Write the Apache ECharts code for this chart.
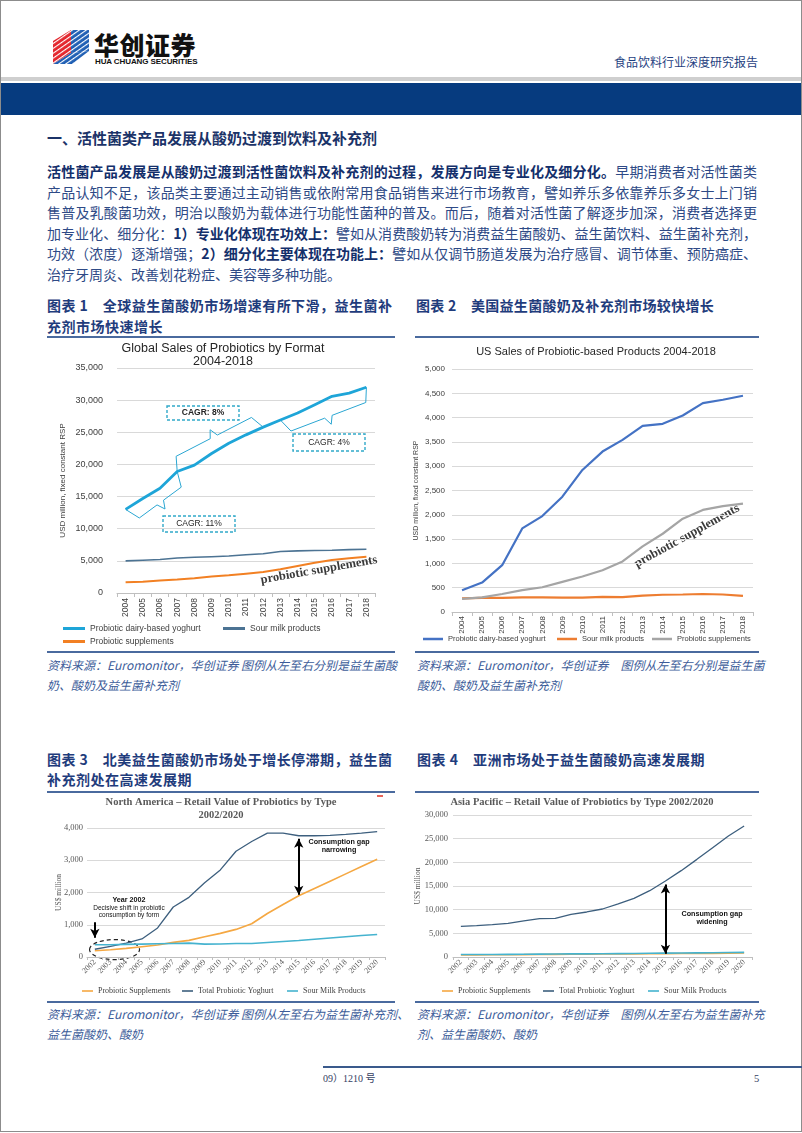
<!DOCTYPE html>
<html><head><meta charset="utf-8">
<script src="https://cdn.jsdelivr.net/npm/echarts@6/dist/echarts.min.js"></script>
<style>
html,body{margin:0;padding:0;background:#fff;}
#page{position:relative;width:802px;height:1133px;overflow:hidden;font-family:"Noto Sans CJK SC",sans-serif;}
.a{position:absolute;white-space:nowrap;}
.j{text-align:justify;text-align-last:justify;}
.p{left:47px;width:710px;font-size:14px;line-height:20px;height:20px;color:#2E4A86;}
.p b{color:#132F6B;font-weight:700;}
.cap{font-size:14px;line-height:20px;height:20px;font-weight:700;color:#1F3C7C;}
.src{font-size:12px;line-height:20px;height:20px;font-style:italic;color:#3C5C99;}
.bl{position:absolute;height:2px;background:#4A6A9E;}
.chart{position:absolute;}
</style></head>
<body><div id="page">
<div class="a" style="left:0;top:0;width:800px;height:1130px;border:1px solid #8c8c8c;"></div>
<!-- logo -->
<svg class="a" style="left:52px;top:29px" width="38" height="36" viewBox="0 0 38 36">
<defs><pattern id="st" width="4" height="4" patternUnits="userSpaceOnUse" patternTransform="rotate(-35)"><rect width="4" height="1.1" fill="#fff"/></pattern></defs>
<polygon points="1,12 19,1 19,24 1,35" fill="#E3262D"/>
<polygon points="19,1 37,1 37,22 19,24" fill="#1F5FB4"/>
<polygon points="1,35 19,24 37,22 20,35" fill="#1F5FB4"/>
<polygon points="1,12 19,1 37,1 37,22 20,35 1,35" fill="url(#st)"/>
</svg>
<div class="a" style="left:94px;top:29px;font-size:25px;line-height:30px;font-weight:900;color:#111;letter-spacing:0.5px;">华创证券</div>
<div class="a" style="left:95px;top:57px;font-size:8px;line-height:10px;font-weight:700;color:#111;font-family:'Liberation Sans',sans-serif;letter-spacing:-0.1px;">HUA CHUANG SECURITIES</div>
<div class="a" style="left:614px;top:54px;font-size:12px;line-height:16px;color:#1F3F7F;">食品饮料行业深度研究报告</div>
<div class="a" style="left:1px;top:77px;width:800px;height:4px;background:#cfcfcf;"></div>
<div class="a" style="left:1px;top:83px;width:800px;height:32px;background:#063B7F;"></div>

<div class="a" style="left:47px;top:128px;font-size:15px;line-height:20px;font-weight:700;color:#1B3368;">一、活性菌类产品发展从酸奶过渡到饮料及补充剂</div>
<div class="a p j" style="top:161px;"><b>活性菌产品发展是从酸奶过渡到活性菌饮料及补充剂的过程，发展方向是专业化及细分化。</b>早期消费者对活性菌类</div>
<div class="a p j" style="top:181.5px;">产品认知不足，该品类主要通过主动销售或依附常用食品销售来进行市场教育，譬如养乐多依靠养乐多女士上门销</div>
<div class="a p j" style="top:202px;">售普及乳酸菌功效，明治以酸奶为载体进行功能性菌种的普及。而后，随着对活性菌了解逐步加深，消费者选择更</div>
<div class="a p j" style="top:222.5px;">加专业化、细分化：<b>1）专业化体现在功效上：</b>譬如从消费酸奶转为消费益生菌酸奶、益生菌饮料、益生菌补充剂，</div>
<div class="a p j" style="top:243px;">功效（浓度）逐渐增强；<b>2）细分化主要体现在功能上：</b>譬如从仅调节肠道发展为治疗感冒、调节体重、预防癌症、</div>
<div class="a p" style="top:263.5px;">治疗牙周炎、改善划花粉症、美容等多种功能。</div>

<div class="a cap j" style="left:47px;top:295px;width:345px;">图表 1　全球益生菌酸奶市场增速有所下滑，益生菌补</div>
<div class="a cap" style="left:47px;top:316px;letter-spacing:0.5px;">充剂市场快速增长</div>
<div class="a cap" style="left:416px;top:295px;letter-spacing:0.3px;">图表 2　美国益生菌酸奶及补充剂市场较快增长</div>
<div class="bl" style="left:47px;top:336px;width:348px;"></div>
<div class="bl" style="left:415px;top:336px;width:344px;"></div>

<div id="c1" class="chart" style="left:47px;top:338px;width:345px;height:312px;"></div>
<div id="c2" class="chart" style="left:405px;top:338px;width:352px;height:312px;"></div>

<div class="bl" style="left:47px;top:651px;width:348px;"></div>
<div class="bl" style="left:415px;top:651px;width:344px;"></div>
<div class="a src j" style="left:47px;top:655px;width:345px;">资料来源：Euromonitor，华创证券 图例从左至右分别是益生菌酸</div>
<div class="a src" style="left:47px;top:675px;">奶、酸奶及益生菌补充剂</div>
<div class="a src j" style="left:417px;top:655px;width:340px;">资料来源：Euromonitor，华创证券　图例从左至右分别是益生菌</div>
<div class="a src" style="left:417px;top:675px;">酸奶、酸奶及益生菌补充剂</div>

<div class="a cap j" style="left:47px;top:749px;width:345px;">图表 3　北美益生菌酸奶市场处于增长停滞期，益生菌</div>
<div class="a cap" style="left:47px;top:769px;letter-spacing:0.5px;">补充剂处在高速发展期</div>
<div class="a cap" style="left:417px;top:749px;letter-spacing:0.5px;">图表 4　亚洲市场处于益生菌酸奶高速发展期</div>
<div class="bl" style="left:47px;top:791px;width:348px;"></div>
<div class="bl" style="left:415px;top:791px;width:344px;"></div>

<div id="c3" class="chart" style="left:47px;top:793px;width:345px;height:207px;"></div>
<div id="c4" class="chart" style="left:405px;top:793px;width:352px;height:207px;"></div>

<div class="bl" style="left:47px;top:1001px;width:348px;"></div>
<div class="bl" style="left:415px;top:1001px;width:344px;"></div>
<div class="a src j" style="left:47px;top:1004px;width:345px;">资料来源：Euromonitor，华创证券 图例从左至右为益生菌补充剂、</div>
<div class="a src" style="left:47px;top:1024px;">益生菌酸奶、酸奶</div>
<div class="a src j" style="left:417px;top:1004px;width:340px;">资料来源：Euromonitor，华创证券　图例从左至右为益生菌补充</div>
<div class="a src" style="left:417px;top:1024px;">剂、益生菌酸奶、酸奶</div>

<div class="a" style="left:323px;top:1066px;width:479px;height:2px;background:#3A5A8C;"></div>
<div class="a" style="left:323px;top:1072px;font-size:10px;line-height:14px;color:#33405f;font-family:'Liberation Serif','Noto Sans CJK SC',serif;">09）1210 号</div>
<div class="a" style="left:754px;top:1072px;font-size:10.5px;line-height:14px;color:#33405f;font-family:'Liberation Serif',serif;">5</div>
</div>
<script>
// ---------- data ----------
const years1 = ['2004','2005','2006','2007','2008','2009','2010','2011','2012','2013','2014','2015','2016','2017','2018'];
const globalYoghurt = [13000,14700,16300,18900,19900,21700,23300,24600,25800,26900,28000,29300,30600,31100,32000];
const globalSour = [5000,5100,5200,5450,5550,5650,5750,5950,6100,6450,6550,6600,6650,6750,6800];
const globalSupp = [1660,1750,1950,2100,2300,2550,2750,3000,3250,3700,4200,4700,5150,5400,5650];
const usYoghurt = [447,605,963,1720,1974,2373,2923,3301,3542,3831,3872,4044,4298,4367,4450];
const usSour = [280,290,290,300,300,295,295,310,305,335,355,360,370,360,330];
const usSupp = [270,300,370,450,510,620,730,860,1040,1350,1610,1920,2100,2180,2230];
const years2 = ['2002','2003','2004','2005','2006','2007','2008','2009','2010','2011','2012','2013','2014','2015','2016','2017','2018','2019','2020'];
const naSupp = [196,227,268,320,371,454,515,629,732,856,1031,1350,1629,1897,2124,2350,2577,2804,3031];
const naYoghurt = [240,330,430,560,900,1550,1850,2300,2700,3280,3580,3840,3840,3760,3760,3770,3800,3840,3890];
const naSour = [380,380,390,400,410,420,430,400,405,420,420,450,480,510,550,590,630,665,700];
const asiaSupp = [420,440,460,480,500,530,560,590,610,630,650,670,690,710,730,750,770,800,830];
const asiaYoghurt = [6480,6620,6830,7110,7610,8100,8170,9010,9510,10140,11200,12390,14010,16060,18240,20630,23100,25560,27680];
const asiaSour = [520,520,530,550,580,610,640,680,670,690,720,750,780,810,840,870,900,940,980];
const cagrLabels = ['CAGR: 11%','CAGR: 8%','CAGR: 4%'];

const SANS = '"Liberation Sans", Arial, sans-serif';
const SERIF = '"Liberation Serif", "DejaVu Serif", serif';
const fmt = v => v.toLocaleString('en-US');

function leg(name, left, top, font, size, w, h){
  return {data:[name], left:left, top:top, padding:0, itemWidth:w, itemHeight:h, icon:'rect', selectedMode:false,
    textStyle:{fontFamily:font, fontSize:size, color:'#404040'}};
}
function line(name, data, color, width, extra){
  return Object.assign({name:name, type:'line', data:data, symbol:'none', showSymbol:false, color:color,
    itemStyle:{color:color}, lineStyle:{color:color, width:width}, silent:true}, extra||{});
}
function arrowLine(x, y1, y2, s1, s2){
  return [{coord:[x,y1], symbol:s1, symbolSize:[7,9]},{coord:[x,y2], symbol:s2, symbolSize:[7,9]}];
}
function brace(p1, p2, side, d, e, t, w){
  const dx=p2[0]-p1[0], dy=p2[1]-p1[1], L=Math.hypot(dx,dy);
  const u=[dx/L, dy/L];
  const n = side>0 ? [-u[1], u[0]] : [u[1], -u[0]];
  const m=[(p1[0]+p2[0])/2,(p1[1]+p2[1])/2];
  const f=(b,a,k)=>[b[0]+u[0]*a+n[0]*k, b[1]+u[1]*a+n[1]*k];
  return [p1, f(p1,e,d), f(m,-w,d), f(m,0,d+t), f(m,w,d), f(p2,-e,d), p2];
}

// ---------- chart 1 ----------
const c1 = echarts.init(document.getElementById('c1'));
c1.setOption({
  animation:false,
  title:{text:'Global Sales of Probiotics by Format\n2004-2018', left:176, top:4, textAlign:'center', padding:0,
    textStyle:{fontFamily:SANS, fontSize:12.5, fontWeight:'normal', color:'#262626', lineHeight:13}},
  grid:{left:70, right:17, top:30, bottom:57, outerBoundsMode:'none'},
  xAxis:{type:'category', data:years1, boundaryGap:true,
    axisLine:{lineStyle:{color:'#BFBFBF'}}, axisTick:{show:true, length:4, lineStyle:{color:'#BFBFBF'}},
    axisLabel:{rotate:90, interval:0, fontFamily:SANS, fontSize:8.5, color:'#404040', margin:5}},
  yAxis:{type:'value', min:0, max:35000, interval:5000, name:'USD million, fixed constant RSP', nameLocation:'middle', nameGap:50, nameMoveOverlap:false,
    nameTextStyle:{fontFamily:SANS, fontSize:8, color:'#404040'},
    axisLabel:{formatter:fmt, fontFamily:SANS, fontSize:9, color:'#404040', margin:14},
    splitLine:{lineStyle:{color:'#D9D9D9'}}, axisLine:{show:false}, axisTick:{show:false}},
  legend:[leg('Probiotic dairy-based yoghurt',16,286,SANS,8.5,22,3), leg('Sour milk products',176,286,SANS,8.5,22,3),
          leg('Probiotic supplements',16,299,SANS,8.5,22,3)],
  series:[line('Probiotic dairy-based yoghurt', globalYoghurt, '#1EA5D8', 2.8),
          line('Sour milk products', globalSour, '#4C7393', 1.6),
          line('Probiotic supplements', globalSupp, '#F28023', 2)]
});
(function(){
  const P = i => c1.convertToPixel({xAxisIndex:0, yAxisIndex:0}, [years1[i], globalYoghurt[i]]);
  const bc = '#2AA6D2';
  const braces = [brace(P(0),P(3),1,15,6,8,4), brace(P(3),P(8),-1,14,6,8,4), brace(P(9),P(14),1,14,6,8,4)];
  const boxes = [[116,178,72,16],[120,68,72,14],[246,96,72,17]];
  const g = [];
  braces.forEach(pts => g.push({type:'polyline', silent:true, shape:{points:pts}, style:{stroke:bc, lineWidth:1, fill:null}}));
  boxes.forEach((b,k) => {
    g.push({type:'rect', silent:true, shape:{x:b[0], y:b[1], width:b[2], height:b[3]}, style:{fill:'rgba(255,255,255,0)', stroke:'#31A9C9', lineWidth:1.4, lineDash:[3,2]}});
    g.push({type:'text', silent:true, x:b[0]+b[2]/2, y:b[1]+b[3]/2, style:{text:cagrLabels[k], fontFamily:SANS, fontSize:8.5, fontWeight:k===1?'bold':'normal', fill:'#262626', align:'center', verticalAlign:'middle'}});
  });
  g.push({type:'text', silent:true, x:272, y:232, rotation:10*Math.PI/180, style:{text:'probiotic supplements', fontFamily:SERIF, fontSize:12.5, fontWeight:'bold', fill:'#3a3a3a', align:'center', verticalAlign:'middle'}});
  c1.setOption({graphic:g});
})();

// ---------- chart 2 ----------
const c2 = echarts.init(document.getElementById('c2'));
c2.setOption({
  animation:false,
  title:{text:'US Sales of Probiotic-based Products 2004-2018', left:191, top:8, textAlign:'center', padding:0,
    textStyle:{fontFamily:SANS, fontSize:11, fontWeight:'normal', color:'#262626'}},
  grid:{left:47, right:4, top:31, bottom:38, outerBoundsMode:'none'},
  xAxis:{type:'category', data:years1, boundaryGap:true,
    axisLine:{lineStyle:{color:'#BFBFBF'}}, axisTick:{show:true, length:4, lineStyle:{color:'#BFBFBF'}},
    axisLabel:{rotate:90, interval:0, fontFamily:SANS, fontSize:8, color:'#404040', margin:4}},
  yAxis:{type:'value', min:0, max:5000, interval:500, name:'USD million, fixed constant RSP', nameLocation:'middle', nameGap:32, nameMoveOverlap:false,
    nameTextStyle:{fontFamily:SANS, fontSize:7, color:'#404040'},
    axisLabel:{formatter:fmt, fontFamily:SANS, fontSize:8, color:'#404040', margin:7},
    splitLine:{lineStyle:{color:'#D9D9D9'}}, axisLine:{show:false}, axisTick:{show:false}},
  legend:[leg('Probiotic dairy-based yoghurt',18,297,SANS,7.5,20,2.5), leg('Sour milk products',152,297,SANS,7.5,20,2.5),
          leg('Probiotic supplements',247,297,SANS,7.5,20,2.5)],
  series:[line('Probiotic dairy-based yoghurt', usYoghurt, '#4472C4', 2.2),
          line('Sour milk products', usSour, '#ED7D31', 2.2),
          line('Probiotic supplements', usSupp, '#A5A5A5', 2.2)],
  graphic:[{type:'text', silent:true, x:282, y:198, rotation:29*Math.PI/180, style:{text:'probiotic supplements', fontFamily:SERIF, fontSize:12.5, fontWeight:'bold', fill:'#3a3a3a', align:'center', verticalAlign:'middle'}}]
});

// ---------- charts 3 & 4 ----------
function naOption(titleText, titleLeft, titleTop, grid, yMax, yInt, nameGap, labelMargin, legLefts, data, arrows){
  return {
    animation:false,
    title:{text:titleText, left:titleLeft, top:titleTop, textAlign:'center', padding:0,
      textStyle:{fontFamily:SERIF, fontSize:10.5, fontWeight:'bold', color:'#595959', lineHeight:13}},
    grid:Object.assign({outerBoundsMode:'none'}, grid),
    xAxis:{type:'category', data:years2, boundaryGap:true,
      axisLine:{lineStyle:{color:'#BFBFBF'}}, axisTick:{show:true, length:3, lineStyle:{color:'#BFBFBF'}},
      axisLabel:{rotate:45, interval:0, fontFamily:SERIF, fontSize:8, color:'#595959', margin:4}},
    yAxis:{type:'value', min:0, max:yMax, interval:yInt, name:'US$ million', nameLocation:'middle', nameGap:nameGap, nameMoveOverlap:false,
      nameTextStyle:{fontFamily:SERIF, fontSize:7.5, color:'#595959'},
      axisLabel:{formatter:fmt, fontFamily:SERIF, fontSize:8.5, color:'#595959', margin:labelMargin},
      splitLine:{lineStyle:{color:'#D9D9D9'}}, axisLine:{show:false}, axisTick:{show:false}},
    legend:[leg('Probiotic Supplements',legLefts[0],194,SERIF,8,11,1.6), leg('Total Probiotic Yoghurt',legLefts[1],194,SERIF,8,11,1.6),
            leg('Sour Milk Products',legLefts[2],194,SERIF,8,11,1.6)],
    series:[line('Probiotic Supplements', data[0], '#F5A843', 1.6),
            line('Total Probiotic Yoghurt', data[1], '#3D5F7E', 1.3,
              {markLine:{silent:true, animation:false, label:{show:false}, lineStyle:{color:'#000', width:2, type:'solid'}, data:arrows}}),
            line('Sour Milk Products', data[2], '#45B3CF', 1.6)]
  };
}
const c3 = echarts.init(document.getElementById('c3'));
c3.setOption(naOption('North America – Retail Value of Probiotics by Type\n2002/2020', 174, 2.5,
  {left:40, right:7, top:35, bottom:43}, 4000, 1000, 24, 4, [35,135,240], [naSupp, naYoghurt, naSour],
  [arrowLine('2015', 1930, 3670, 'arrow', 'arrow'), arrowLine('2002', 1080, 600, 'none', 'arrow')]));
(function(){
  const e = c3.convertToPixel({xAxisIndex:0, yAxisIndex:0}, ['2003', 230]);
  const T = (x,y,t,b,s) => ({type:'text', silent:true, x:x, y:y, style:{text:t, fontFamily:SANS, fontSize:s, fontWeight:b?'bold':'normal', fill:'#111', align:'center', verticalAlign:'middle'}});
  c3.setOption({graphic:[
    T(292,49,'Consumption gap',true,7.2), T(292,57,'narrowing',true,7.2),
    T(82,107,'Year 2002',true,7.2), T(82,115,'Decisive shift in probiotic',false,6.5), T(82,122,'consumption by form',false,6.5),
    {type:'ellipse', silent:true, shape:{cx:e[0]+4, cy:e[1]+0, rx:25, ry:10}, style:{fill:null, stroke:'#222', lineWidth:1.2, lineDash:[4,3]}},
    {type:'line', silent:true, shape:{x1:330, y1:3, x2:336, y2:3}, style:{stroke:'#E03020', lineWidth:1.5}}
  ]});
})();

const c4 = echarts.init(document.getElementById('c4'));
c4.setOption(naOption('Asia Pacific – Retail Value of Probiotics by Type 2002/2020', 177, 2.5,
  {left:48, right:5, top:22, bottom:43}, 30000, 5000, 31, 5, [37,138,243], [asiaSupp, asiaYoghurt, asiaSour],
  [arrowLine('2015', 700, 15300, 'arrow', 'arrow')]));
c4.setOption({graphic:[
  {type:'text', silent:true, x:307, y:121, style:{text:'Consumption gap', fontFamily:SANS, fontSize:7.2, fontWeight:'bold', fill:'#111', align:'center', verticalAlign:'middle'}},
  {type:'text', silent:true, x:307, y:129, style:{text:'widening', fontFamily:SANS, fontSize:7.2, fontWeight:'bold', fill:'#111', align:'center', verticalAlign:'middle'}}
]});
</script>
</body></html>
